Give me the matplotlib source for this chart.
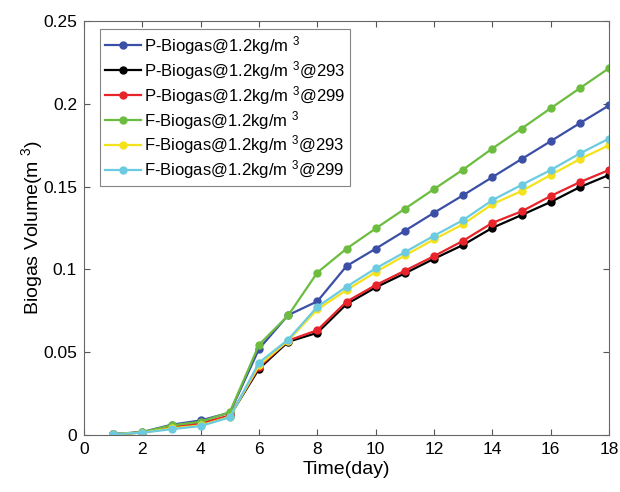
import numpy as np
import matplotlib
matplotlib.use("Agg")
import matplotlib.pyplot as plt
from matplotlib.ticker import FuncFormatter

plt.rcParams["font.family"] = ["Liberation Sans", "DejaVu Sans"]
plt.rcParams["mathtext.fontset"] = "custom"
plt.rcParams["mathtext.rm"] = "Liberation Sans"
plt.rcParams["mathtext.it"] = "Liberation Sans"
plt.rcParams["mathtext.bf"] = "Liberation Sans"

days = np.arange(1, 19)

p_biogas = [0.0005, 0.0018, 0.0062, 0.0088, 0.0135, 0.0520, 0.0724, 0.0807, 0.1020,
            0.1125, 0.1233, 0.1342, 0.1448, 0.1557, 0.1666, 0.1774, 0.1883, 0.1990]
p_biogas_293 = [0.0005, 0.0015, 0.0050, 0.0068, 0.0115, 0.0400, 0.0563, 0.0617, 0.0790,
                0.0891, 0.0976, 0.1064, 0.1148, 0.1251, 0.1328, 0.1407, 0.1497, 0.1570]
p_biogas_299 = [0.0005, 0.0015, 0.0050, 0.0070, 0.0118, 0.0410, 0.0570, 0.0633, 0.0805,
                0.0905, 0.0992, 0.1080, 0.1173, 0.1281, 0.1350, 0.1443, 0.1527, 0.1600]
f_biogas = [0.0005, 0.0017, 0.0058, 0.0080, 0.0138, 0.0545, 0.0722, 0.0981, 0.1125,
            0.1247, 0.1366, 0.1485, 0.1603, 0.1730, 0.1850, 0.1973, 0.2094, 0.2215]
f_biogas_293 = [0.0005, 0.0014, 0.0040, 0.0058, 0.0110, 0.0420, 0.0570, 0.0758, 0.0875,
                0.0984, 0.1084, 0.1181, 0.1273, 0.1394, 0.1473, 0.1570, 0.1666, 0.1750]
f_biogas_299 = [0.0005, 0.0014, 0.0035, 0.0054, 0.0107, 0.0437, 0.0576, 0.0774, 0.0895,
                0.1006, 0.1104, 0.1203, 0.1298, 0.1418, 0.1510, 0.1600, 0.1700, 0.1790]

series = [
    (p_biogas, "P-Biogas@1.2kg/m $^{3}$", "#3b4fa6"),
    (p_biogas_293, "P-Biogas@1.2kg/m $^{3}$@293", "#000000"),
    (p_biogas_299, "P-Biogas@1.2kg/m $^{3}$@299", "#e8232a"),
    (f_biogas, "F-Biogas@1.2kg/m $^{3}$", "#6cbd3f"),
    (f_biogas_293, "F-Biogas@1.2kg/m $^{3}$@293", "#f3e21c"),
    (f_biogas_299, "F-Biogas@1.2kg/m $^{3}$@299", "#6ccbe0"),
]

fig = plt.figure(figsize=(6.2, 4.92), dpi=100)
ax = fig.add_axes([84 / 620, 1 - 435 / 492, 525 / 620, 414 / 492])

for values, label, color in series:
    ax.plot(days, values, color=color, marker="o", markersize=5,
            linewidth=1.6, label=label)

ax.set_xlim(0, 18)
ax.set_ylim(0, 0.25)
ax.set_xticks(range(0, 19, 2))
ax.set_yticks([0, 0.05, 0.1, 0.15, 0.2, 0.25])
ax.yaxis.set_major_formatter(FuncFormatter(lambda v, p: f"{v:g}"))
ax.tick_params(direction="in", top=True, right=True, length=4,
               labelsize=12.5, color="#555555", pad=5)
for s in ax.spines.values():
    s.set_color("#666666")
    s.set_linewidth(0.8)

ax.set_xlabel("Time(day)", fontsize=14, labelpad=3)
ax.set_ylabel("Biogas Volume(m $^{3}$)", fontsize=14, labelpad=-1.5)

leg = ax.legend(loc="upper left", bbox_to_anchor=(16 / 525, 1 - 8 / 414),
                borderaxespad=0, fontsize=12, frameon=True, fancybox=False,
                handlelength=2.15, handletextpad=0.2, labelspacing=0.12,
                borderpad=0.3)
leg.get_frame().set_edgecolor("#666666")
leg.get_frame().set_linewidth(0.8)

fig.savefig("out.png", dpi=100)
